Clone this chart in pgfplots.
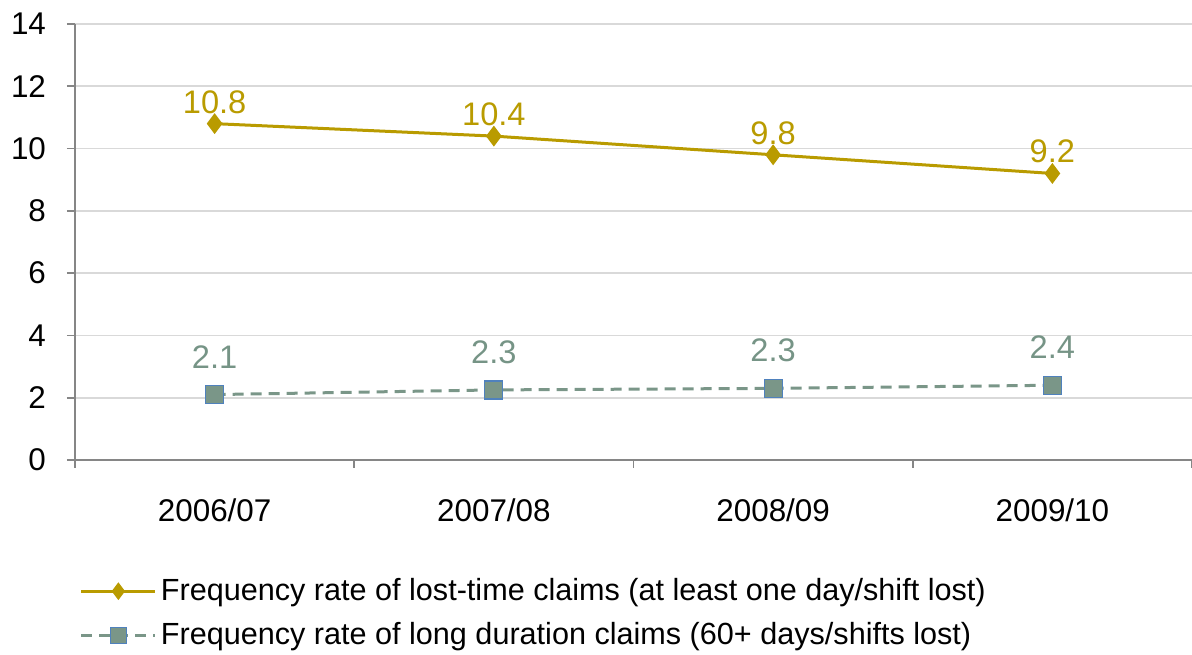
\documentclass[border=0pt]{standalone}
\usepackage{pgfplots}
\pgfplotsset{compat=1.18}
\usepackage{fontspec}
\setmainfont{Liberation Sans}
\definecolor{gold}{RGB}{185,155,0}
\definecolor{teal}{RGB}{122,150,136}
\definecolor{tealtxt}{RGB}{118,148,134}
\definecolor{sqborder}{RGB}{79,129,189}
\definecolor{gridc}{RGB}{217,217,217}
\definecolor{axc}{RGB}{134,134,134}
\begin{document}
\begin{tikzpicture}[x=1pt,y=1pt]
\begin{axis}[
  name=main,
  scale only axis,
  width=558.5pt, height=218pt,
  xmin=-0.5, xmax=3.5, ymin=0, ymax=14,
  axis x line*=bottom, axis y line*=left,
  axis line style={axc, line width=0.8pt, -},
  xtick={0,1,2,3},
  xticklabels={2006/07,2007/08,2008/09,2009/10},
  minor xtick={-0.5,0.5,1.5,2.5,3.5},
  ytick={0,2,...,14},
  tick align=outside,
  major tick length=4pt,
  minor tick length=4pt,
  x tick style={draw=none},
  minor x tick style={draw=axc, line width=0.8pt},
  y tick style={draw=axc, line width=0.8pt},
  ymajorgrids,
  major grid style={gridc, line width=0.8pt},
  tick label style={font=\fontsize{15.7}{17}\selectfont},
  /pgf/number format/assume math mode=true,
  xticklabel style={yshift=-12pt},
  yticklabel style={xshift=-7pt},
  legend style={draw=none, fill=none, at={(0.004,-0.262)}, anchor=north west,
    font=\fontsize{15.3}{17}\selectfont, row sep=5.5pt, inner sep=0pt,
    /tikz/every even column/.append style={column sep=2pt}},
  legend cell align=left,
  legend image code/.code={
    \draw[#1, mark repeat=2, mark phase=2] plot coordinates {(0pt,0pt) (18.5pt,0pt) (37pt,0pt)};},
  clip=false,
]
\addplot[gold, line width=1.5pt, mark=diamond*, mark size=4pt,
  mark options={solid, fill=gold, draw=gold},
  legend image post style={mark size=3.2pt},
  nodes near coords, point meta=explicit symbolic,
  every node near coord/.append style={font=\fontsize{16.3}{18}\selectfont, text=gold, yshift=1pt}]
  coordinates {(0,10.8)[10.8] (1,10.4)[10.4] (2,9.8)[9.8] (3,9.2)[9.2]};
\addlegendentry{Frequency rate of lost-time claims (at least one day/shift lost)}
\addplot[teal, line width=1.5pt, dash pattern=on 5.5pt off 3.5pt, mark=square*, mark size=4.5pt,
  mark options={solid, fill=teal, draw=sqborder, line width=0.6pt},
  legend image post style={mark size=4pt},
  nodes near coords, point meta=explicit symbolic,
  every node near coord/.append style={font=\fontsize{16.3}{18}\selectfont, text=tealtxt, yshift=9.5pt}]
  coordinates {(0,2.1)[2.1] (1,2.25)[2.3] (2,2.3)[2.3] (3,2.4)[2.4]};
\addlegendentry{Frequency rate of long duration claims (60+ days/shifts lost)}
\end{axis}
\pgfresetboundingbox
\path ([shift={(-37.5pt,-97.5pt)}]main.south west) rectangle ([shift={(0pt,12pt)}]main.north east);
\end{tikzpicture}
\end{document}
